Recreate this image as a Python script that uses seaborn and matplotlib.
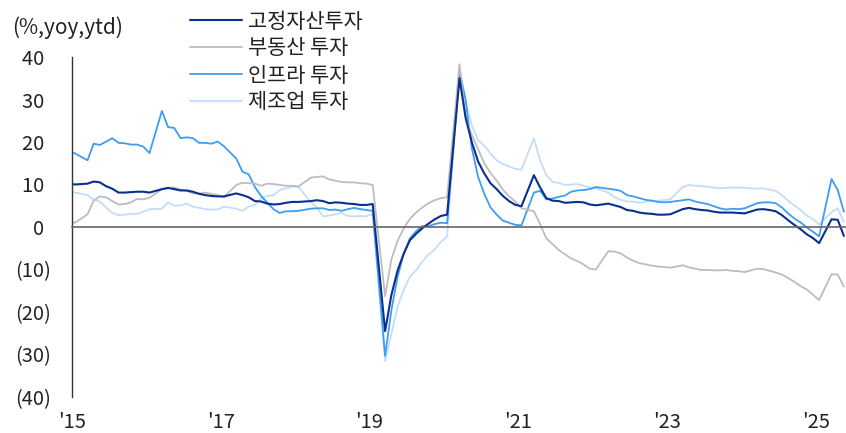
import numpy as np
import pandas as pd
import matplotlib
matplotlib.use("Agg")
import matplotlib.pyplot as plt
import seaborn as sns

# ---- data (ytd, % yoy) ----
# months: Nov-2015, Dec-2015, then Feb..Dec of 2016-2025, then Feb..Apr 2026
years = [2015] * 2 + [y for y in range(2016, 2026) for _ in range(11)] + [2026] * 3
months = [11, 12] + [m for _ in range(2016, 2026) for m in range(2, 13)] + [2, 3, 4]

fai = [10.2, 10.0,
       10.2, 10.7, 10.5, 9.6, 9.0, 8.1, 8.1, 8.2, 8.3, 8.3, 8.1,
       8.9, 9.2, 8.9, 8.6, 8.6, 8.3, 7.8, 7.5, 7.3, 7.2, 7.2,
       7.9, 7.5, 7.0, 6.1, 6.0, 5.5, 5.3, 5.4, 5.7, 5.9, 5.9,
       6.1, 6.3, 6.1, 5.6, 5.8, 5.7, 5.5, 5.4, 5.2, 5.2, 5.4,
       -24.5, -16.1, -10.3, -6.3, -3.1, -1.6, -0.3, 0.8, 1.8, 2.6, 2.9,
       35.0, 25.6, 19.9, 15.4, 12.6, 10.3, 8.9, 7.3, 6.1, 5.2, 4.9,
       12.2, 9.3, 6.8, 6.2, 6.1, 5.7, 5.8, 5.9, 5.8, 5.3, 5.1,
       5.5, 5.1, 4.7, 4.0, 3.8, 3.4, 3.2, 3.1, 2.9, 2.9, 3.0,
       4.2, 4.5, 4.2, 4.0, 3.9, 3.6, 3.4, 3.4, 3.4, 3.3, 3.2,
       4.1, 4.2, 4.0, 3.7, 2.8, 1.6, 0.5, -0.5, -1.7, -2.6, -3.8,
       1.8, 1.7, -2.1]

real_estate = [1.3, 1.0,
               3.0, 6.2, 7.2, 7.0, 6.1, 5.3, 5.4, 5.8, 6.6, 6.5, 6.9,
               8.9, 9.1, 9.3, 8.8, 8.5, 7.9, 7.9, 8.1, 7.8, 7.5, 7.0,
               9.9, 10.4, 10.3, 10.2, 9.7, 10.2, 10.1, 9.9, 9.7, 9.7, 9.5,
               11.6, 11.8, 11.9, 11.2, 10.9, 10.6, 10.5, 10.5, 10.3, 10.2, 9.9,
               -16.3, -7.7, -3.3, -0.3, 1.9, 3.4, 4.6, 5.6, 6.3, 6.8, 7.0,
               38.3, 25.6, 21.6, 18.3, 15.0, 12.7, 10.9, 8.8, 7.2, 6.0, 4.4,
               3.7, 0.7, -2.7, -4.0, -5.4, -6.4, -7.4, -8.0, -8.8, -9.8, -10.0,
               -5.7, -5.8, -6.2, -7.2, -7.9, -8.5, -8.8, -9.1, -9.3, -9.4, -9.6,
               -9.0, -9.5, -9.8, -10.1, -10.1, -10.2, -10.2, -10.1, -10.3, -10.4, -10.6,
               -9.8, -9.9, -10.3, -10.7, -11.2, -12.0, -12.9, -13.9, -14.7, -15.9, -17.2,
               -11.1, -11.2, -14.0]

infra = [18.0, 17.3,
         15.7, 19.6, 19.3, 20.1, 20.9, 19.8, 19.7, 19.4, 19.4, 18.9, 17.4,
         27.3, 23.5, 23.3, 20.9, 21.1, 20.9, 19.8, 19.8, 19.6, 20.1, 19.0,
         16.1, 13.0, 12.4, 9.4, 7.3, 5.7, 4.2, 3.3, 3.7, 3.7, 3.8,
         4.3, 4.4, 4.4, 4.0, 4.1, 3.8, 4.2, 4.5, 4.2, 4.0, 3.8,
         -30.3, -19.7, -11.8, -6.3, -2.7, -1.0, 0.2, 0.2, 0.7, 1.0, 0.9,
         36.6, 29.7, 18.4, 11.8, 7.8, 4.6, 2.9, 1.5, 1.0, 0.5, 0.4,
         8.1, 8.5, 6.5, 6.7, 7.1, 7.4, 8.3, 8.6, 8.7, 8.9, 9.4,
         9.0, 8.8, 8.5, 7.5, 7.2, 6.8, 6.4, 6.2, 5.9, 5.8, 5.9,
         6.3, 6.5, 6.0, 5.7, 5.4, 4.9, 4.4, 4.1, 4.3, 4.2, 4.4,
         5.6, 5.8, 5.8, 5.6, 4.6, 3.2, 2.0, 1.1, -0.1, -1.1, -2.2,
         11.3, 8.7, 3.6]

manuf = [8.4, 8.1,
         7.5, 6.4, 6.0, 4.6, 3.3, 2.8, 2.9, 3.1, 3.1, 3.6, 4.2,
         4.3, 5.8, 5.0, 5.1, 5.5, 4.8, 4.5, 4.2, 4.1, 4.1, 4.8,
         4.3, 3.8, 4.8, 5.2, 6.8, 7.3, 7.5, 8.7, 9.1, 9.5, 9.5,
         5.9, 4.6, 2.5, 2.7, 3.0, 3.3, 2.6, 2.5, 2.6, 2.5, 3.1,
         -31.5, -25.2, -18.8, -14.8, -11.7, -10.2, -8.1, -6.5, -5.3, -3.5, -2.2,
         37.3, 29.8, 23.8, 20.4, 19.2, 17.3, 15.7, 14.8, 14.2, 13.7, 13.5,
         20.9, 15.6, 12.2, 10.6, 10.4, 9.9, 10.0, 10.1, 9.7, 9.3, 9.1,
         8.1, 7.0, 6.4, 6.0, 6.0, 5.7, 5.9, 6.2, 6.2, 6.3, 6.5,
         9.4, 9.9, 9.7, 9.6, 9.5, 9.3, 9.1, 9.2, 9.3, 9.3, 9.2,
         9.0, 9.1, 8.8, 8.5, 7.5, 6.2, 5.1, 4.0, 2.7, 1.9, 0.6,
         3.5, 4.4, 1.2]

series_names = ["고정자산투자", "부동산 투자", "인프라 투자", "제조업 투자"]
series_values = [fai, real_estate, infra, manuf]
colors = ["#0a2f8f", "#bdbdbd", "#3d9df2", "#c3ddfb"]
widths = [1.5, 1.3, 1.3, 1.3]

xtick_labels = ["'15", "'17", "'19", "'21", "'23", "'25"]
ytick_values = [40, 30, 20, 10, 0, -10, -20, -30, -40]
ylabel_text = "(%,yoy,ytd)"

# ---- build table ----
# position on the chart's axis (axis origin sits half a month before Dec-2015)
pos = [(y - 2015) * 12 + (m - 1) - 10.5 for y, m in zip(years, months)]
frames = []
for name, vals in zip(series_names, series_values):
    frames.append(pd.DataFrame({"x": pos, "y": vals, "series": name}))
df = pd.concat(frames, ignore_index=True)

sns.set_style("white")
plt.rcParams["font.family"] = ["Noto Sans CJK KR", "DejaVu Sans"]

W, H = 846, 433
FS_TICK = 14.5
FS_LEG = 15
fig = plt.figure(figsize=(W / 100, H / 100), dpi=100)
ax = fig.add_axes([72 / W, (H - 397) / H, (W - 72) / W, (397 - 57) / H])

handles = {}
for name, col, lw in list(zip(series_names, colors, widths))[::-1]:
    sub = df[df["series"] == name]
    sns.lineplot(data=sub, x="x", y="y", ax=ax, color=col, linewidth=lw,
                 sort=False, estimator=None, legend=False)
    handles[name] = ax.lines[-1]

ax.set_xlim(0, (W - 72) / 6.2)
ax.set_ylim(-40, 40)
ax.set_xlabel("")
ax.set_ylabel("")

xt = [0, 24, 48, 72, 96, 120]
ax.set_xticks(xt)
ax.tick_params(axis="x", direction="out", length=5, width=1, color="#777777",
               labelbottom=False)
ax.spines["bottom"].set_position(("data", 0))
ax.spines["bottom"].set_color("#666666")
ax.spines["bottom"].set_linewidth(1.2)
ax.spines["top"].set_visible(False)
ax.spines["right"].set_visible(False)
ax.spines["left"].set_color("#333333")
ax.spines["left"].set_linewidth(1.0)

ax.set_yticks(ytick_values)
ax.set_yticklabels([f"{v}\u2004" if v >= 0 else f"({abs(v)})" for v in ytick_values])
ax.tick_params(axis="y", direction="out", length=6, width=1, color="#333333",
               labelsize=FS_TICK, labelcolor="#222222", pad=9)

sec = ax.secondary_xaxis("bottom")
sec.set_xticks(xt, labels=xtick_labels)
sec.tick_params(length=0, labelsize=FS_TICK, labelcolor="#222222", pad=10.5)
sec.spines["bottom"].set_visible(False)

fig.text(12 / W, 1 - 28 / H, ylabel_text, ha="left", va="center",
         fontsize=FS_LEG, color="#222222")

leg = ax.legend([handles[n] for n in series_names], series_names,
                loc="upper left", bbox_to_anchor=(190 / W, 1 - 10.5 / H),
                bbox_transform=fig.transFigure, frameon=False, fontsize=FS_LEG,
                handlelength=2.5, handletextpad=0.3, labelspacing=0.24,
                borderpad=0, borderaxespad=0)
for t in leg.get_texts():
    t.set_color("#222222")

fig.savefig("out.png", dpi=100)
